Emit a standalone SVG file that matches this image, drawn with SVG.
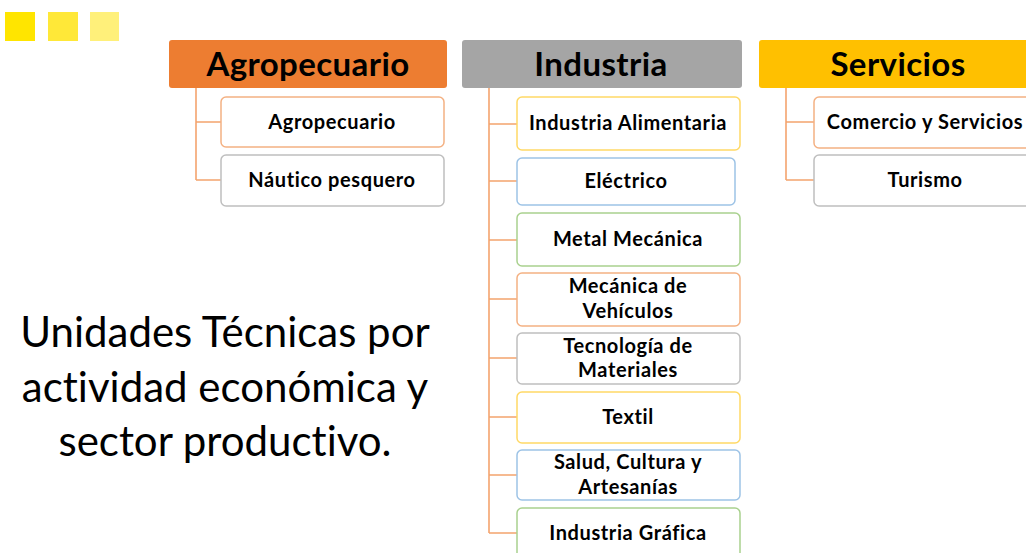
<svg xmlns="http://www.w3.org/2000/svg" width="1026" height="553" viewBox="0 0 1026 553">
<style>
text{font-variant-ligatures:none}
.hdr{font-family:Lato,"Open Sans",sans-serif;font-weight:bold;font-size:33px;letter-spacing:0.4px;fill:#000;text-anchor:middle}
.lbl{font-family:Lato,"Open Sans",sans-serif;font-weight:bold;font-size:20px;letter-spacing:0.6px;fill:#000;text-anchor:middle}
.big{font-family:Lato,"Open Sans",sans-serif;font-size:42px;fill:#000;text-anchor:middle}
.box{fill:#fff;stroke-width:1.5}
.conn{fill:none;stroke:#F4A46E;stroke-width:1.6}
</style>
<rect width="1026" height="553" fill="#fff"/>
<g id="squares">
<rect x="5" y="12" width="30" height="29" fill="#FFE500"/>
<rect x="48" y="12" width="30" height="29" fill="#FFE838"/>
<rect x="90" y="12" width="29" height="29" fill="#FFF07A"/>
</g>
<g id="connectors">
<path class="conn" d="M196 88V180M196 122H221M196 180H221"/>
<path class="conn" d="M489 88V533M489 124H517M489 181H517M489 240H517M489 299H517M489 358H517M489 417H517M489 475H517M489 533H517"/>
<path class="conn" d="M786 88V180M786 122H814M786 180H814"/>
</g>
<g id="agro">
<rect x="169" y="40" width="278" height="48" rx="3" fill="#ED7D31"/>
<text class="hdr" x="308" y="76">Agropecuario</text>
</g>
<g id="agro1"><rect class="box" x="221" y="97" width="223" height="50" rx="5" stroke="#F4B183"/><text class="lbl" x="332" y="129">Agropecuario</text></g>
<g id="agro2"><rect class="box" x="221" y="155" width="223" height="51" rx="5" stroke="#BFBFBF"/><text class="lbl" x="332" y="187">Náutico pesquero</text></g>
<g id="ind">
<rect x="462" y="40" width="280" height="48" rx="3" fill="#A5A5A5"/>
<text class="hdr" x="601" y="76">Industria</text>
</g>
<g id="ind1"><rect class="box" x="517" y="97" width="223" height="53" rx="5" stroke="#FFD966"/><text class="lbl" x="628" y="130">Industria Alimentaria</text></g>
<g id="ind2"><rect class="box" x="517" y="158" width="218" height="47" rx="5" stroke="#9DC3E6"/><text class="lbl" x="626" y="188">Eléctrico</text></g>
<g id="ind3"><rect class="box" x="517" y="213" width="223" height="53" rx="5" stroke="#A9D18E"/><text class="lbl" x="628" y="246">Metal Mecánica</text></g>
<g id="ind4"><rect class="box" x="517" y="273" width="223" height="53" rx="5" stroke="#F4B183"/><text class="lbl" x="628" y="293">Mecánica de</text><text class="lbl" x="628" y="318">Vehículos</text></g>
<g id="ind5"><rect class="box" x="517" y="333" width="223" height="51" rx="5" stroke="#BFBFBF"/><text class="lbl" x="628" y="353">Tecnología de</text><text class="lbl" x="628" y="377">Materiales</text></g>
<g id="ind6"><rect class="box" x="517" y="392" width="223" height="51" rx="5" stroke="#FFD966"/><text class="lbl" x="628" y="424">Textil</text></g>
<g id="ind7"><rect class="box" x="517" y="450" width="223" height="50" rx="5" stroke="#9DC3E6"/><text class="lbl" x="628" y="469">Salud, Cultura y</text><text class="lbl" x="628" y="494">Artesanías</text></g>
<g id="ind8"><rect class="box" x="517" y="508" width="223" height="60" rx="5" stroke="#A9D18E"/><text class="lbl" x="628" y="540">Industria Gráfica</text></g>
<g id="serv">
<rect x="759" y="40" width="280" height="48" rx="3" fill="#FFC000"/>
<text class="hdr" x="898" y="76">Servicios</text>
</g>
<g id="serv1"><rect class="box" x="814" y="97" width="223" height="51" rx="5" stroke="#F4B183"/><text class="lbl" x="925" y="129">Comercio y Servicios</text></g>
<g id="serv2"><rect class="box" x="814" y="155" width="223" height="51" rx="5" stroke="#BFBFBF"/><text class="lbl" x="925" y="187">Turismo</text></g>
<g id="title">
<text class="big" x="225" y="347">Unidades Técnicas por</text>
<text class="big" x="225" y="402">actividad económica y</text>
<text class="big" x="225" y="456">sector productivo.</text>
</g>
</svg>
